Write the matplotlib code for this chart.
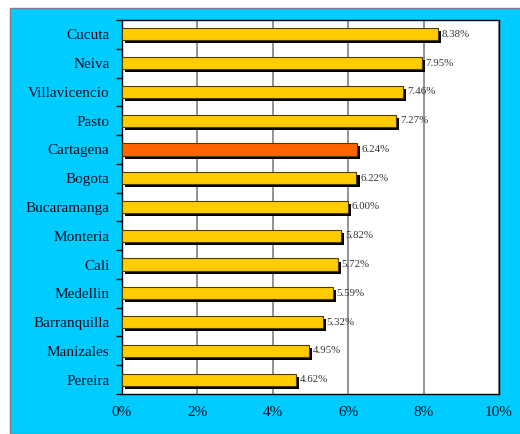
import matplotlib
matplotlib.use("Agg")
import matplotlib.pyplot as plt
import matplotlib.patheffects as pe
from matplotlib.patches import Rectangle
import numpy as np

cities = ["Cucuta", "Neiva", "Villavicencio", "Pasto", "Cartagena", "Bogota",
          "Bucaramanga", "Monteria", "Cali", "Medellin", "Barranquilla",
          "Manizales", "Pereira"]
values = [8.38, 7.95, 7.46, 7.27, 6.24, 6.22, 6.00, 5.82, 5.72, 5.59, 5.32, 4.95, 4.62]
highlight = "Cartagena"
xticks = [0, 2, 4, 6, 8, 10]
xticklabels = ["0%", "2%", "4%", "6%", "8%", "10%"]

serif = ["Liberation Serif", "DejaVu Serif"]

fig = plt.figure(figsize=(5.2, 4.34), dpi=100)
fig.patch.set_facecolor("white")
fig.patches.append(Rectangle((10/520, 0), 1.0, 1 - 8/434, transform=fig.transFigure,
                             facecolor="#00CCFF", edgecolor="#808080", linewidth=1.0, zorder=-10))

ax = fig.add_axes([122/520, 1 - 394/434, (499-122)/520, (394-20)/434])
ax.set_zorder(5)
ax.set_facecolor("white")

y = np.arange(len(cities))
colors = ["#FF6600" if c == highlight else "#FFCC00" for c in cities]
bars = ax.barh(y, values, height=0.42, color=colors, edgecolor="#4d3d00", linewidth=0.8, zorder=3)
for b in bars:
    b.set_path_effects([pe.SimplePatchShadow(offset=(2.2, -2.2), shadow_rgbFace="black", alpha=1.0),
                        pe.Normal()])

ax.set_xlim(0, 10)
ax.set_ylim(len(cities) - 0.5, -0.5)
ax.set_xticks(xticks)
ax.set_xticklabels(xticklabels, fontfamily=serif, fontsize=11, color="#001122")
ax.set_yticks(y)
ax.set_yticklabels(cities, fontfamily=serif, fontsize=11, color="#001122")
ax.tick_params(axis="y", length=0, pad=9)
ax.tick_params(axis="x", length=0, pad=9)
ax.set_yticks(np.arange(-0.5, len(cities), 1), minor=True)
ax.tick_params(axis="y", which="minor", length=4, width=1, color="black", direction="out")
ax.xaxis.grid(True, color="#808080", linewidth=1.2, zorder=0)
ax.set_axisbelow(True)
for s in ["top", "right", "bottom", "left"]:
    ax.spines[s].set_color("black")
    ax.spines[s].set_linewidth(1.0)

for yi, v in zip(y, values):
    ax.text(v + 0.1, yi, f"{v:.2f}%", va="center", ha="left",
            fontfamily=serif, fontsize=7.8, color="#333333", zorder=5)

fig.savefig("out.png", dpi=100, facecolor=fig.get_facecolor())
